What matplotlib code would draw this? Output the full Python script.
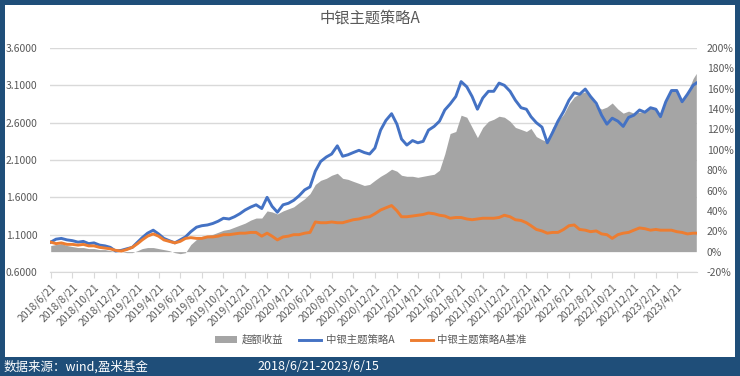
import datetime as dt

import matplotlib
matplotlib.use('Agg')
import matplotlib.pyplot as plt
from matplotlib.patches import Rectangle, Patch
from matplotlib.lines import Line2D
from matplotlib.ticker import FuncFormatter
import numpy as np
import pandas as pd

plt.rcParams['font.family'] = ['Noto Sans CJK SC', 'DejaVu Sans']

title = '中银主题策略A'
names = ['超额收益', '中银主题策略A', '中银主题策略A基准']
source = '数据来源：wind,盈米基金'
period = '2018/6/21-2023/6/15'

# sample dates: the 6th and 21st of each month, plus the last day
start, last = dt.date(2018, 6, 21), dt.date(2023, 6, 15)
dates = []
for y in range(2018, 2024):
    for m in range(1, 13):
        for d in (6, 21):
            day = dt.date(y, m, d)
            if start <= day < last:
                dates.append(day)
dates.append(last)

# fund NAV (left axis)
fund = [1.00, 1.04, 1.05, 1.03, 1.02, 1.00, 1.01, 0.98, 0.99, 0.96,
        0.95, 0.93, 0.88, 0.89, 0.91, 0.93, 1.00, 1.06, 1.12, 1.16,
        1.11, 1.05, 1.02, 0.99, 1.03, 1.07, 1.14, 1.20, 1.22, 1.23,
        1.25, 1.28, 1.32, 1.31, 1.34, 1.38, 1.43, 1.47, 1.50, 1.45,
        1.60, 1.48, 1.40, 1.50, 1.52, 1.56, 1.62, 1.70, 1.74, 1.95,
        2.08, 2.14, 2.18, 2.29, 2.15, 2.17, 2.20, 2.23, 2.20, 2.18,
        2.26, 2.50, 2.63, 2.72, 2.58, 2.38, 2.30, 2.36, 2.33, 2.35,
        2.50, 2.55, 2.62, 2.77, 2.85, 2.95, 3.15, 3.08, 2.95, 2.78,
        2.93, 3.02, 3.02, 3.13, 3.10, 3.02, 2.90, 2.80, 2.78, 2.68,
        2.60, 2.54, 2.33, 2.47, 2.62, 2.75, 2.90, 3.00, 2.98, 3.05,
        2.95, 2.86, 2.70, 2.58, 2.66, 2.62, 2.55, 2.67, 2.70, 2.77,
        2.74, 2.80, 2.78, 2.68, 2.88, 3.03, 3.03, 2.88, 2.98, 3.10,
        3.13]

# benchmark (left axis)
bench = [1.00, 0.98, 0.99, 0.97, 0.97, 0.96, 0.97, 0.95, 0.95, 0.93,
         0.92, 0.91, 0.89, 0.88, 0.90, 0.93, 0.98, 1.03, 1.08, 1.11,
         1.08, 1.03, 1.01, 0.99, 1.01, 1.05, 1.06, 1.05, 1.05, 1.07,
         1.07, 1.08, 1.10, 1.10, 1.11, 1.12, 1.12, 1.13, 1.13, 1.08,
         1.12, 1.08, 1.03, 1.07, 1.08, 1.10, 1.10, 1.12, 1.13, 1.27,
         1.26, 1.26, 1.27, 1.26, 1.26, 1.28, 1.30, 1.31, 1.33, 1.34,
         1.38, 1.43, 1.46, 1.49, 1.42, 1.34, 1.34, 1.35, 1.36, 1.37,
         1.39, 1.38, 1.36, 1.35, 1.32, 1.33, 1.33, 1.31, 1.30, 1.31,
         1.32, 1.32, 1.32, 1.33, 1.36, 1.34, 1.30, 1.29, 1.26, 1.22,
         1.17, 1.15, 1.12, 1.13, 1.13, 1.17, 1.22, 1.23, 1.17, 1.16,
         1.14, 1.15, 1.11, 1.10, 1.05, 1.10, 1.12, 1.13, 1.16, 1.19,
         1.18, 1.16, 1.17, 1.16, 1.16, 1.16, 1.14, 1.13, 1.11, 1.12,
         1.12]

# excess return in % (right axis)
excess = [6, 7, 8, 6, 5, 4, 4, 3, 3, 2,
          2, 1, 0, 0, -1, -1, 1, 3, 4, 4,
          3, 2, 1, -1, -2, -1, 7, 12, 15, 16,
          17, 19, 21, 22, 24, 26, 28, 31, 33, 33,
          40, 39, 37, 40, 42, 44, 48, 52, 57, 66,
          70, 72, 75, 77, 72, 71, 69, 67, 65, 66,
          70, 74, 77, 81, 79, 75, 74, 74, 73, 74,
          75, 76, 80, 96, 116, 118, 134, 132, 122, 112,
          122, 128, 130, 133, 132, 128, 122, 120, 118, 121,
          113, 110, 108, 122, 128, 135, 145, 152, 155, 157,
          152, 143, 140, 142, 146, 140, 136, 138, 136, 137,
          138, 142, 140, 135, 150, 160, 160, 148, 156, 170,
          175]

gray, blue, orange = '#a5a5a5', '#4472c4', '#ed7d31'
txt = '#595959'
grid = '#d9d9d9'

fig = plt.figure(figsize=(7.4, 3.76), dpi=100)
fig.patch.set_facecolor('#1f4e79')
fig.add_artist(Rectangle((5 / 740, 19 / 376), 730 / 740, 352 / 376,
                         transform=fig.transFigure, facecolor='white',
                         edgecolor='none', zorder=-5))

pos = [50 / 740, 1 - 272 / 376, 647 / 740, 224 / 376]
ax = fig.add_axes(pos)          # left scale + grid
ax2 = ax.twinx()                # right scale, excess area
ax3 = ax.twinx()                # lines on top, left scale

ax.set_zorder(0)
ax2.set_zorder(1)
ax3.set_zorder(2)
ax2.patch.set_visible(False)
ax3.patch.set_visible(False)

ax2.fill_between(dates, 0, excess, color=gray, linewidth=0)
ax3.plot(dates, fund, color=blue, lw=2.1, solid_joinstyle='round')
ax3.plot(dates, bench, color=orange, lw=2.1, solid_joinstyle='round')

x0, x1 = dt.date(2018, 6, 19), dt.date(2023, 6, 17)
for a in (ax, ax2, ax3):
    a.set_xlim(x0, x1)
    for s in a.spines.values():
        s.set_visible(False)

ax.set_ylim(0.6, 3.6)
ax3.set_ylim(0.6, 3.6)
ax2.set_ylim(-20, 200)

ax.set_yticks(np.arange(0.6, 3.61, 0.5))
ax.yaxis.set_major_formatter(FuncFormatter(lambda v, p: f'{v:.4f}'))
ax.grid(axis='y', color=grid, lw=1)
ax.tick_params(axis='y', length=0, pad=9, labelsize=7.5, labelcolor=txt)

ax2.set_yticks(np.arange(-20, 201, 20))
ax2.yaxis.set_major_formatter(FuncFormatter(lambda v, p: f'{v:.0f}%'))
ax2.tick_params(axis='y', length=0, pad=7, labelsize=7.5, labelcolor=txt)
ax3.yaxis.set_visible(False)
ax2.xaxis.set_visible(False)
ax3.xaxis.set_visible(False)

ticks = pd.date_range('2018-06-01', '2023-04-01', freq='2MS') + pd.Timedelta(days=20)
ax.set_xticks(ticks)
ax.set_xticklabels([f'{d.year}/{d.month}/{d.day}' for d in ticks],
                   rotation=45, ha='right', rotation_mode='anchor')
ax.tick_params(axis='x', length=4, color=grid, pad=3, labelsize=7.5,
               labelcolor=txt)
ax.spines['bottom'].set_visible(True)
ax.spines['bottom'].set_color(grid)

fig.text(0.5, 1 - 18 / 376, title, ha='center', va='center',
         fontsize=11, color=txt)

handles = [Patch(facecolor=gray, edgecolor='none'),
           Line2D([], [], color=blue, lw=2.1),
           Line2D([], [], color=orange, lw=2.1)]
fig.legend(handles, names, loc='center', bbox_to_anchor=(0.501, 1 - 340 / 376),
           ncol=3, frameon=False, fontsize=7.5, labelcolor=txt,
           handlelength=2.1, handletextpad=0.4, columnspacing=1.6)

fig.text(4 / 740, 9.5 / 376, source, color='white', fontsize=9, va='center')
fig.text(257 / 740, 9.5 / 376, period, color='white', fontsize=9, va='center')

fig.savefig('out.png', dpi=100, facecolor=fig.get_facecolor())
